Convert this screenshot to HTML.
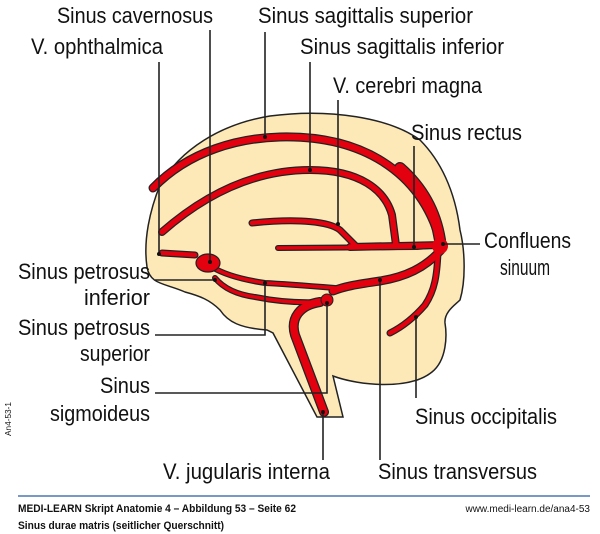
<!DOCTYPE html>
<html><head><meta charset="utf-8"><style>
html,body{margin:0;padding:0;background:#fff;width:600px;height:534px;overflow:hidden}
svg text{font-family:"Liberation Sans Narrow","Liberation Sans",sans-serif;fill:#111}
</style></head><body>
<svg width="600" height="534" viewBox="0 0 600 534" xmlns="http://www.w3.org/2000/svg">
<path d="M147,267 C150,285 165,283 185,292 C200,296 210,300 220,310 C228,322 240,328 267,330 L273,333 L317,417 L343,417 L333,376 C360,386 410,390 432,372 C447,360 447,335 445,323 C444,312 455,305 460,300 C466,280 465,250 460,230 C455,190 440,160 420,140 C390,118 330,108 270,116 C220,124 180,150 160,185 C150,210 143,240 147,267 Z" fill="#fde8b8" stroke="#222" stroke-width="1.5"/>
<g fill="none" stroke-linecap="round" stroke-linejoin="round">
<g stroke="#222">
<path d="M153,188 C190,150 240,138 280,137 C360,135 420,170 440,240" stroke-width="9"/>
<path d="M400,168 C425,190 436,215 440,240" stroke-width="12"/>
<path d="M162,232 C210,190 260,170 310,170 C360,170 385,190 392,215 L396,245" stroke-width="8"/>
<path d="M278,248 L417,247 L442,245" stroke-width="6"/>
<path d="M350,247 L442,245" stroke-width="8"/>
<path d="M252,223 C300,218 330,222 340,230 C346,236 350,240 356,246" stroke-width="7"/>
<path d="M441,250 C425,268 405,277 380,281 C360,284 345,286 333,291" stroke-width="9"/>
<path d="M335,288 C310,286 285,284 265,283 C245,280 225,275 212,267" stroke-width="6"/>
<path d="M215,278 C225,290 240,295 255,297 C280,302 300,303 320,302" stroke-width="6"/>
<path d="M320,302 C300,305 290,318 295,335 L324,412" stroke-width="10"/>
<path d="M438,252 C437,275 435,290 425,305 C412,320 400,328 390,333" stroke-width="7"/>
<path d="M162,253 L195,255" stroke-width="7"/>
</g>
<g stroke="#e3000f">
<path d="M153,188 C190,150 240,138 280,137 C360,135 420,170 440,240" stroke-width="6.5"/>
<path d="M400,168 C425,190 436,215 440,240" stroke-width="9.5"/>
<path d="M162,232 C210,190 260,170 310,170 C360,170 385,190 392,215 L396,245" stroke-width="5.5"/>
<path d="M278,248 L417,247 L442,245" stroke-width="3.5"/>
<path d="M350,247 L442,245" stroke-width="5.5"/>
<path d="M252,223 C300,218 330,222 340,230 C346,236 350,240 356,246" stroke-width="4.5"/>
<path d="M441,250 C425,268 405,277 380,281 C360,284 345,286 333,291" stroke-width="6.5"/>
<path d="M335,288 C310,286 285,284 265,283 C245,280 225,275 212,267" stroke-width="3.5"/>
<path d="M215,278 C225,290 240,295 255,297 C280,302 300,303 320,302" stroke-width="3.5"/>
<path d="M320,302 C300,305 290,318 295,335 L324,412" stroke-width="7.5"/>
<path d="M438,252 C437,275 435,290 425,305 C412,320 400,328 390,333" stroke-width="4.5"/>
<path d="M162,253 L195,255" stroke-width="4.5"/>
</g>
</g>
<ellipse cx="208" cy="263" rx="12" ry="9" fill="#e3000f" stroke="#222" stroke-width="1.2"/>
<circle cx="440" cy="246" r="8" fill="#e3000f"/>
<circle cx="327" cy="300" r="6" fill="#e3000f" stroke="#222" stroke-width="1"/>
<g stroke="#222" stroke-width="1.6" fill="none">
<path d="M210,30 V262"/><path d="M159,62 V254"/><path d="M265,32 V137"/>
<path d="M310,62 V170"/><path d="M338,100 V224"/><path d="M414,146 V247"/>
<path d="M443,244 H480"/><path d="M155,280 H215"/>
<path d="M265,283 V335 H155"/><path d="M327,303 V393 H155"/>
<path d="M323,412 V460"/><path d="M380,280 V460"/><path d="M416,317 V398"/>
</g>
<g fill="#111">
<circle cx="210" cy="262" r="2"/><circle cx="159" cy="254" r="2"/><circle cx="265" cy="137" r="2"/>
<circle cx="310" cy="170" r="2"/><circle cx="338" cy="224" r="2"/><circle cx="414" cy="247" r="2"/>
<circle cx="443" cy="244" r="2"/><circle cx="215" cy="280" r="2"/><circle cx="265" cy="283" r="2"/>
<circle cx="327" cy="303" r="2"/><circle cx="323" cy="412" r="2"/><circle cx="380" cy="280" r="2"/>
<circle cx="416" cy="317" r="2"/>
</g>
<g font-size="22">
<text x="57" y="23" textLength="156" lengthAdjust="spacingAndGlyphs">Sinus cavernosus</text>
<text x="258" y="23" textLength="215" lengthAdjust="spacingAndGlyphs">Sinus sagittalis superior</text>
<text x="31" y="54" textLength="132" lengthAdjust="spacingAndGlyphs">V. ophthalmica</text>
<text x="300" y="54" textLength="204" lengthAdjust="spacingAndGlyphs">Sinus sagittalis inferior</text>
<text x="333" y="93" textLength="149" lengthAdjust="spacingAndGlyphs">V. cerebri magna</text>
<text x="411" y="140" textLength="111" lengthAdjust="spacingAndGlyphs">Sinus rectus</text>
<text x="484" y="248" textLength="87" lengthAdjust="spacingAndGlyphs">Confluens</text>
<text x="500" y="275" textLength="50" lengthAdjust="spacingAndGlyphs">sinuum</text>
<text x="18" y="279" textLength="132" lengthAdjust="spacingAndGlyphs">Sinus petrosus</text>
<text x="84" y="305" textLength="66" lengthAdjust="spacingAndGlyphs">inferior</text>
<text x="18" y="335" textLength="132" lengthAdjust="spacingAndGlyphs">Sinus petrosus</text>
<text x="80" y="361" textLength="70" lengthAdjust="spacingAndGlyphs">superior</text>
<text x="100" y="393" textLength="50" lengthAdjust="spacingAndGlyphs">Sinus</text>
<text x="50" y="421" textLength="100" lengthAdjust="spacingAndGlyphs">sigmoideus</text>
<text x="415" y="424" textLength="142" lengthAdjust="spacingAndGlyphs">Sinus occipitalis</text>
<text x="163" y="479" textLength="167" lengthAdjust="spacingAndGlyphs">V. jugularis interna</text>
<text x="378" y="479" textLength="159" lengthAdjust="spacingAndGlyphs">Sinus transversus</text>
</g>
<text x="11" y="436" font-size="8" transform="rotate(-90 11 436)" fill="#444" textLength="34" lengthAdjust="spacingAndGlyphs">An4-53-1</text>
<line x1="18" y1="496" x2="590" y2="496" stroke="#2a5aa0" stroke-width="1.3"/>
<text x="18" y="512" font-size="11" font-weight="bold" textLength="278" lengthAdjust="spacingAndGlyphs">MEDI-LEARN Skript Anatomie 4 – Abbildung 53 – Seite 62</text>
<text x="18" y="529" font-size="11" font-weight="bold" textLength="206" lengthAdjust="spacingAndGlyphs">Sinus durae matris (seitlicher Querschnitt)</text>
<text x="590" y="512" font-size="10" text-anchor="end" fill="#444">www.medi-learn.de/ana4-53</text>
</svg>
</body></html>
